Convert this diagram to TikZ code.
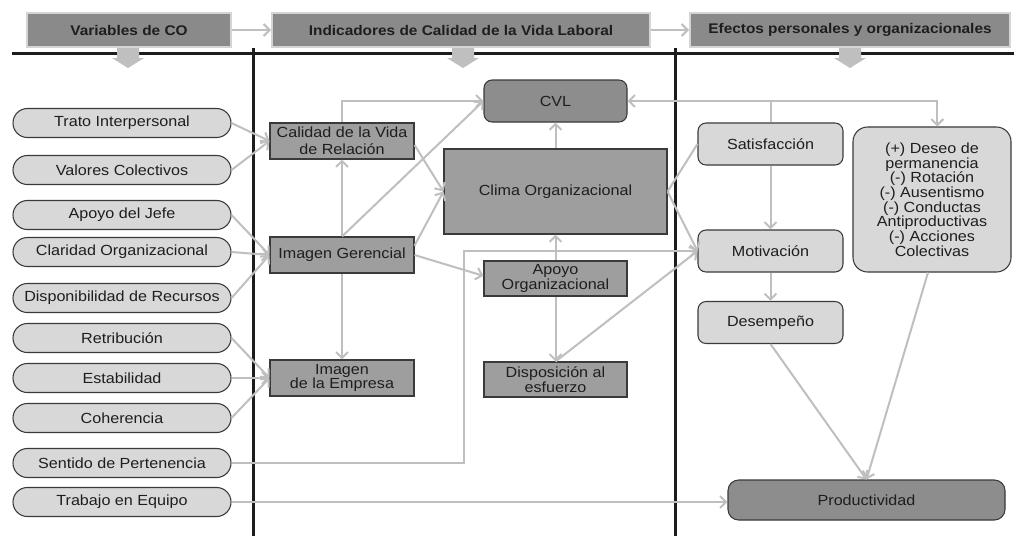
\documentclass[tikz,border=0pt]{standalone}
\usepackage{fontspec}
\setmainfont[FakeStretch=1.1]{Liberation Sans}
\usetikzlibrary{arrows.meta}
\definecolor{hdrfill}{HTML}{8A8A8A}
\definecolor{hdredge}{HTML}{D4D4D4}
\definecolor{midfill}{HTML}{9E9E9E}
\definecolor{darkfill}{HTML}{8D8D8D}
\definecolor{lightfill}{HTML}{D8D8D8}
\definecolor{edgec}{HTML}{3A3A3A}
\definecolor{lineg}{HTML}{BFBFBF}
\definecolor{txtc}{HTML}{1E1E1E}
\definecolor{sepc}{HTML}{1C1C1C}
\newcommand\mynodefont{\fontsize{11}{11}\selectfont}
\newcommand\myhdrfont{\fontsize{10.5}{11}\selectfont\bfseries}
\tikzset{
  conn/.style={draw=lineg, line width=1.5pt, -{Straight Barb[length=4.5pt,width=9pt]}},
  plainconn/.style={draw=lineg, line width=1.5pt},
  hdr/.style={fill=hdrfill, draw=hdredge, line width=1.5pt, minimum height=25.5pt, font=\myhdrfont, text=txtc, inner sep=0pt},
  varnode/.style={fill=lightfill, draw=edgec, line width=0.8pt, rounded corners=10.8pt, minimum width=163.5pt, minimum height=21.75pt, font=\mynodefont, text=txtc, inner sep=0pt},
  mbox/.style={fill=midfill, draw=edgec, line width=0.8pt, minimum width=108pt, minimum height=27pt, align=center, font=\mynodefont, text=txtc, inner sep=0pt},
  rbox/.style={fill=lightfill, draw=edgec, line width=0.8pt, rounded corners=6pt, minimum width=108.75pt, minimum height=31.5pt, align=center, font=\mynodefont, text=txtc, inner sep=0pt},
  sep/.style={draw=sepc, line width=2.25pt},
  blockarrow/.style={fill=lineg, draw=none},
}
\begin{document}
\begin{tikzpicture}[x=0.75pt,y=-0.75pt]
\useasboundingbox[fill=white] (0,0) rectangle (1014,536);

% separators
\draw[sep] (12,53) -- (1014,53);
\draw[sep] (253,48) -- (253,536);
\draw[sep] (675,48) -- (675,536);

% block arrows
\foreach \cx in {128,463,850}{
  \fill[blockarrow] (\cx-11,47) -- (\cx+11,47) -- (\cx+11,58) -- (\cx+16,58) -- (\cx,68) -- (\cx-16,58) -- (\cx-11,58) -- cycle;
}

% headers
\node[hdr, minimum width=153pt] (h1) at (129,30) {Variables de CO};
\node[hdr, minimum width=283.5pt] (h2) at (461,30) {Indicadores de Calidad de la Vida Laboral};
\node[hdr, minimum width=240pt] (h3) at (850,30) {Efectos personales y organizacionales};
\draw[conn] (h1.east) -- (h2.west);
\draw[conn] (h2.east) -- (h3.west);

% left variables
\node[varnode] (trato) at (122,123) {Trato Interpersonal};
\node[varnode] (valores) at (122,170) {Valores Colectivos};
\node[varnode] (jefe) at (122,215) {Apoyo del Jefe};
\node[varnode] (claridad) at (122,252) {Claridad Organizacional};
\node[varnode] (dispon) at (122,298) {Disponibilidad de Recursos};
\node[varnode] (retrib) at (122,338) {Retribución};
\node[varnode] (estab) at (122,378) {Estabilidad};
\node[varnode] (coher) at (122,418) {Coherencia};
\node[varnode] (sentido) at (122,463) {Sentido de Pertenencia};
\node[varnode] (trabajo) at (122,502) {Trabajo en Equipo};

% middle boxes
\node[mbox, font=\fontsize{11}{12.8}\selectfont] (calidad) at (342,141) {Calidad de la Vida\\de Relación};
\node[mbox] (imgG) at (342,255) {Imagen Gerencial};
\node[mbox] (imgE) at (342,378) {Imagen\\de la Empresa};
\node[mbox, fill=darkfill, rounded corners=6pt, minimum width=107.25pt, minimum height=31.5pt] (cvl) at (555.5,101) {CVL};
\node[mbox, minimum width=167.25pt, minimum height=63.75pt] (clima) at (555.5,191.5) {Clima Organizacional};
\node[mbox, minimum width=107.25pt, minimum height=26.25pt] (apoyoO) at (555.5,278.5) {Apoyo\\Organizacional};
\node[mbox, minimum width=107.25pt, minimum height=26.25pt] (disp) at (555.5,379.5) {Disposición al\\esfuerzo};

% right boxes
\node[rbox] (satisf) at (770.5,144) {Satisfacción};
\node[rbox] (motiv) at (770.5,251) {Motivación};
\node[rbox] (desemp) at (770.5,322.5) {Desempeño};
\node[rbox, rounded corners=11pt, minimum width=118.5pt, minimum height=108.75pt] (big) at (932,199.5) {(+) Deseo de\\permanencia\\(-) Rotación\\(-) Ausentismo\\(-) Conductas\\Antiproductivas\\(-) Acciones\\Colectivas};
\node[rbox, fill=darkfill, rounded corners=8pt, minimum width=207.75pt, minimum height=30pt] (prod) at (866.5,500) {Productividad};

% left -> middle
\draw[conn] (trato.east) -- (calidad.west);
\draw[conn] (valores.east) -- (calidad.west);
\draw[conn] (jefe.east) -- (imgG.west);
\draw[conn] (claridad.east) -- (imgG.west);
\draw[conn] (dispon.east) -- (imgG.west);
\draw[conn] (retrib.east) -- (imgE.west);
\draw[conn] (estab.east) -- (imgE.west);
\draw[conn] (coher.east) -- (imgE.west);
\coordinate (sbend) at (464,251);
\draw[conn] (sentido.east) -| (sbend) -- (motiv.west);
\draw[conn] (trabajo.east) -- (trabajo.east -| prod.west);

% middle connections
\draw[conn] (imgG.north) -- (calidad.south);
\draw[conn] (calidad.north) |- (cvl.west);
\draw[conn] (imgG.north) -- (cvl.west);
\draw[conn] ([yshift=7pt]imgG.east) -- (clima.west);
\draw[conn] ([yshift=-3pt]calidad.east) -- (clima.west);
\draw[conn] (imgG.east) -- ([yshift=2pt]apoyoO.west);
\draw[conn] (imgG.south) -- (imgE.north);
\draw[conn] (clima.north) -- (cvl.south);
\draw[conn] (apoyoO.north) -- (clima.south);
\draw[conn] (apoyoO.south) -- (disp.north);
\draw[conn] (disp.north) -- (motiv.west);

% right connections
\draw[plainconn] (clima.east) -- (satisf.west);
\draw[conn] (clima.east) -- (motiv.west);
\draw[conn] (satisf.south) -- (motiv.north);
\draw[conn] (motiv.south) -- (desemp.north);
\draw[conn] (desemp.south) -- (prod.north);
\draw[conn] ([xshift=-3pt]big.south) -- (prod.north);
\draw[conn] (satisf.north) |- (cvl.east);
\draw[conn] (satisf.north |- cvl.east) -| ([xshift=4pt]big.north);
\end{tikzpicture}
\end{document}
